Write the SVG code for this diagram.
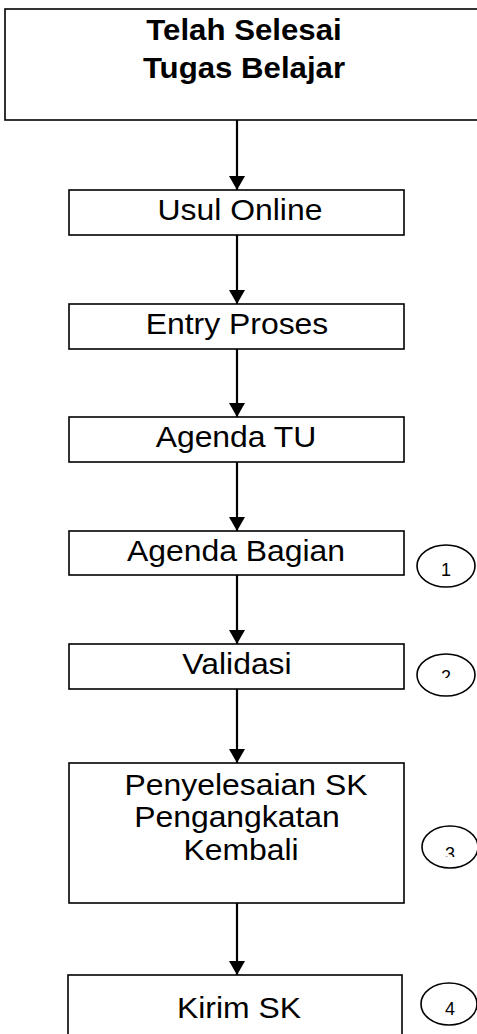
<svg xmlns="http://www.w3.org/2000/svg" width="477" height="1034" viewBox="0 0 477 1034">
<defs>
<style>
.box{fill:#fff;stroke:#000;stroke-width:1.6}
.t{font-family:"Liberation Sans",Arial,sans-serif;font-size:29px;fill:#000;text-anchor:middle}
.tb{font-family:"Liberation Sans",Arial,sans-serif;font-size:30px;font-weight:bold;fill:#000;text-anchor:middle}
.n{font-family:"Liberation Sans",Arial,sans-serif;font-size:18px;fill:#000;text-anchor:middle}
.el{fill:#fff;stroke:#000;stroke-width:1.6}
.c{stroke:#000;stroke-width:2.2;fill:none;marker-end:url(#ah)}
</style>
<marker id="ah" markerUnits="userSpaceOnUse" markerWidth="14" markerHeight="16" refX="14" refY="8" orient="auto" viewBox="0 0 14 16">
<path d="M0,0 L14,8 L0,16 Z" fill="#000"/>
</marker>
<clipPath id="c2"><rect x="430" y="660" width="30" height="18"/></clipPath>
<clipPath id="c3"><rect x="430" y="835" width="30" height="22"/></clipPath>
</defs>
<rect width="477" height="1034" fill="#fff"/>
<g id="connectors">
<line class="c" x1="237" y1="120" x2="237" y2="190"/>
<line class="c" x1="237" y1="235" x2="237" y2="304"/>
<line class="c" x1="237" y1="349" x2="237" y2="417"/>
<line class="c" x1="237" y1="462" x2="237" y2="531"/>
<line class="c" x1="237" y1="575" x2="237" y2="644"/>
<line class="c" x1="237" y1="689" x2="237" y2="763"/>
<line class="c" x1="237" y1="903" x2="237" y2="975"/>
</g>
<g id="start">
<rect class="box" x="5" y="9" width="480" height="111"/>
<text class="tb" transform="translate(244,40) scale(1.04,1)">Telah Selesai</text>
<text class="tb" transform="translate(244,78) scale(1.04,1)">Tugas Belajar</text>
</g>
<g id="usul">
<rect class="box" x="69" y="190" width="335" height="45"/>
<text class="t" transform="translate(240,220) scale(1.1,1)">Usul Online</text>
</g>
<g id="entry">
<rect class="box" x="69" y="304" width="335" height="45"/>
<text class="t" transform="translate(237,334) scale(1.1,1)">Entry Proses</text>
</g>
<g id="agendatu">
<rect class="box" x="69" y="417" width="335" height="45"/>
<text class="t" transform="translate(236,447) scale(1.1,1)">Agenda TU</text>
</g>
<g id="agendabagian">
<rect class="box" x="69" y="531" width="335" height="44"/>
<text class="t" transform="translate(236,561) scale(1.1,1)">Agenda Bagian</text>
</g>
<g id="validasi">
<rect class="box" x="69" y="644" width="335" height="45"/>
<text class="t" transform="translate(237,674) scale(1.1,1)">Validasi</text>
</g>
<g id="penyelesaian">
<rect class="box" x="69" y="763" width="335" height="140"/>
<text class="t" transform="translate(246,795) scale(1.1,1)">Penyelesaian SK</text>
<text class="t" transform="translate(237,827) scale(1.1,1)">Pengangkatan</text>
<text class="t" transform="translate(241,860) scale(1.1,1)">Kembali</text>
</g>
<g id="kirim">
<rect class="box" x="68" y="975" width="334" height="70"/>
<text class="t" transform="translate(239,1018) scale(1.1,1)">Kirim SK</text>
</g>
<g id="n1">
<ellipse class="el" cx="446" cy="566" rx="29" ry="21"/>
<text class="n" x="446" y="576">1</text>
</g>
<g id="n2">
<ellipse class="el" cx="446" cy="675" rx="29" ry="21"/>
<text class="n" x="446" y="683" clip-path="url(#c2)">2</text>
</g>
<g id="n3">
<ellipse class="el" cx="450" cy="847" rx="28" ry="21"/>
<text class="n" x="450" y="860" clip-path="url(#c3)">3</text>
</g>
<g id="n4">
<ellipse class="el" cx="449" cy="1004" rx="28" ry="21"/>
<text class="n" x="450" y="1015">4</text>
</g>
</svg>
